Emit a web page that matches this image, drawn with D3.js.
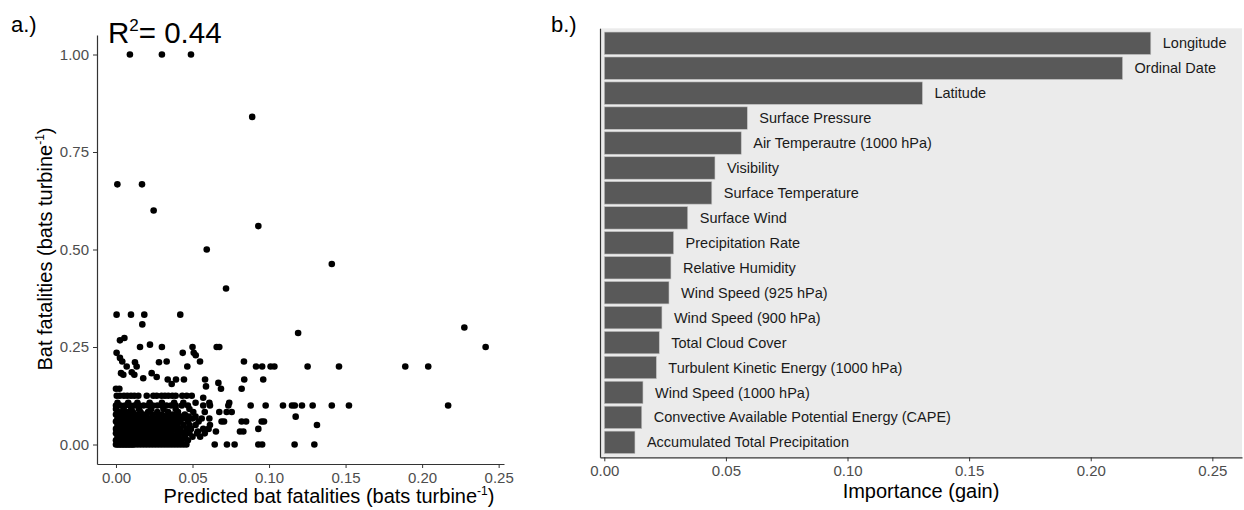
<!DOCTYPE html>
<html>
<head>
<meta charset="utf-8">
<script src="https://cdn.jsdelivr.net/npm/d3@7"></script>
<style>
  body { margin: 0; background: #fff; }
  svg text { font-family: "Liberation Sans", Arial, Helvetica, sans-serif; }
</style>
</head>
<body>
<div id="chart"></div>
<script>
// ---- data: panel a (observed level -> predicted values at that level)
const fatalityLevels = [0, 0.011, 0.02, 0.0286, 0.0333, 0.04, 0.05, 0.0588, 0.0667, 0.0714,
  0.0769, 0.0833, 0.0909, 0.1, 0.107, 0.12, 0.125, 0.1429, 0.149, 0.155, 0.158, 0.1667, 0.17,
  0.173, 0.179, 0.183, 0.185, 0.2, 0.211, 0.213, 0.222, 0.229, 0.235, 0.25, 0.256, 0.267,
  0.273, 0.286, 0.3, 0.308, 0.333, 0.4, 0.463, 0.5, 0.56, 0.6, 0.667, 0.84, 1];

const predictedAtLevel = [
  [0, 0.001, 0.002, 0.003, 0.004, 0.005, 0.006, 0.007, 0.008, 0.009, 0.010, 0.011, 0.012, 0.014, 0.016, 0.018, 0.020, 0.022, 0.024, 0.026, 0.028, 0.030, 0.032, 0.034, 0.036, 0.038, 0.040, 0.042, 0.044, 0.046, 0.0645, 0.0725, 0.0775, 0.093, 0.0955, 0.1167, 0.1296],
  [0, 0.0025, 0.005, 0.0075, 0.010, 0.0125, 0.015, 0.0175, 0.020, 0.0225, 0.025, 0.0275, 0.030, 0.0325, 0.035, 0.0375, 0.040, 0.043, 0.047],
  [0.001, 0.0035, 0.006, 0.0085, 0.011, 0.0135, 0.016, 0.0185, 0.021, 0.0235, 0.026, 0.0285, 0.031, 0.0335, 0.036, 0.0385, 0.041, 0.045, 0.050, 0.055],
  [0, 0.0025, 0.005, 0.0075, 0.010, 0.0125, 0.015, 0.0175, 0.020, 0.0225, 0.025, 0.0275, 0.030, 0.033, 0.036, 0.040, 0.044, 0.048, 0.053, 0.058],
  [0.0015, 0.0045, 0.008, 0.0115, 0.016, 0.022, 0.028, 0.034, 0.041, 0.046, 0.0535, 0.0653, 0.081, 0.0832],
  [0, 0.0025, 0.005, 0.0075, 0.010, 0.0125, 0.015, 0.0175, 0.020, 0.023, 0.026, 0.029, 0.032, 0.035, 0.038, 0.042, 0.046, 0.049, 0.057, 0.0605, 0.093],
  [0.001, 0.0035, 0.006, 0.0085, 0.011, 0.0135, 0.016, 0.019, 0.022, 0.025, 0.028, 0.031, 0.034, 0.037, 0.040, 0.044, 0.048, 0.052, 0.0614, 0.1313],
  [0, 0.0025, 0.005, 0.0075, 0.010, 0.013, 0.016, 0.019, 0.022, 0.025, 0.028, 0.031, 0.034, 0.038, 0.042, 0.047, 0.054, 0.069, 0.0706, 0.0821, 0.085, 0.0952, 0.0967],
  [0.001, 0.004, 0.007, 0.010, 0.013, 0.016, 0.019, 0.022, 0.025, 0.029, 0.033, 0.037, 0.040, 0.044, 0.050, 0.056, 0.061],
  [0.002, 0.005, 0.008, 0.011, 0.014, 0.017, 0.020, 0.024, 0.028, 0.032, 0.036, 0.040, 0.043, 0.0475, 0.052, 0.1174],
  [0, 0.003, 0.006, 0.009, 0.013, 0.018, 0.024, 0.030, 0.037, 0.045],
  [0.002, 0.005, 0.008, 0.011, 0.016, 0.021, 0.027, 0.034, 0.0405, 0.0505, 0.058, 0.0675, 0.0723, 0.0756],
  [0, 0.005, 0.010, 0.015, 0.023, 0.031, 0.039, 0.048],
  [0, 0.003, 0.006, 0.009, 0.012, 0.015, 0.018, 0.021, 0.024, 0.027, 0.030, 0.033, 0.036, 0.039, 0.043, 0.047, 0.057, 0.0614, 0.0734, 0.088, 0.0978, 0.1091, 0.115, 0.1168, 0.1215, 0.1285, 0.141, 0.1522, 0.217],
  [0.001, 0.008, 0.014, 0.022, 0.030, 0.038, 0.044, 0.052, 0.061, 0.074],
  [0.057],
  [0.0005, 0.0025, 0.0052, 0.0074, 0.0098, 0.012, 0.0146, 0.0201, 0.0244, 0.0266, 0.0298, 0.032, 0.0342, 0.0368, 0.039, 0.0433, 0.0462, 0.0495],
  [0, 0.0022, 0.0686, 0.0821],
  [0.0588],
  [0.0364],
  [0.0669],
  [0.0338, 0.0392, 0.0444, 0.0582, 0.0838, 0.0962],
  [0.0178],
  [0.0266],
  [0.012, 0.0048],
  [0.0033, 0.0233],
  [0.0103],
  [0.007, 0.0135, 0.0466, 0.0915, 0.0955, 0.101, 0.1035, 0.1252, 0.1457, 0.189, 0.204],
  [0.0124, 0.0281],
  [0.0041, 0.0331, 0.0549, 0.0836],
  [0.0026],
  [0.0521],
  [0.0004, 0.0436, 0.0508],
  [0.0157, 0.030, 0.050, 0.0658, 0.0675, 0.2415],
  [0.0222],
  [0.0026],
  [0.0055],
  [0.119],
  [0.2276],
  [0.0172],
  [0.0004, 0.0098, 0.0185, 0.042],
  [0.0719],
  [0.141],
  [0.0593],
  [0.093],
  [0.0246],
  [0.0009, 0.017],
  [0.089],
  [0.0091, 0.030, 0.049]
];

const scatterXTicks = [0, 0.05, 0.10, 0.15, 0.20, 0.25];
const scatterYTicks = [0, 0.25, 0.5, 0.75, 1];

// ---- data: panel b
const featureNames = ["Longitude", "Ordinal Date", "Latitude", "Surface Pressure",
  "Air Temperautre (1000 hPa)", "Visibility", "Surface Temperature", "Surface Wind",
  "Precipitation Rate", "Relative Humidity", "Wind Speed (925 hPa)", "Wind Speed (900 hPa)",
  "Total Cloud Cover", "Turbulent Kinetic Energy (1000 hPa)", "Wind Speed (1000 hPa)",
  "Convective Available Potential Energy (CAPE)", "Accumulated Total Precipitation"];
const featureGain = [0.2247, 0.2131, 0.1308, 0.0588, 0.0563, 0.0455, 0.0442, 0.0343,
  0.0285, 0.0274, 0.0266, 0.0237, 0.0226, 0.0214, 0.0159, 0.0154, 0.0126];
const gainTicks = [0, 0.05, 0.10, 0.15, 0.20, 0.25];

// ---- build
let svg = d3.select("#chart").append("svg")
  .attr("width", 1244).attr("height", 510);

let axisColor = "#333333";
let tickText = "#4d4d4d";

function styleAxis(g) {
  g.select(".domain").attr("stroke", axisColor).attr("stroke-width", 1.2);
  g.selectAll(".tick line").attr("stroke", axisColor).attr("stroke-width", 1);
  g.selectAll(".tick text").attr("fill", tickText).attr("font-size", 15)
    .attr("font-family", "Liberation Sans, Arial, sans-serif");
}

// panel a
let points = [];
fatalityLevels.forEach((lvl, i) => {
  predictedAtLevel[i].forEach(p => points.push({ pred: p, obs: lvl }));
});

let xA = d3.scaleLinear().domain([-0.0124, 0.2535]).range([97, 504]);
let yA = d3.scaleLinear().domain([-0.05, 1.05]).range([464, 35]);

svg.append("g").selectAll("circle")
  .data(points)
  .enter()
  .append("circle")
  .attr("cx", d => xA(d.pred))
  .attr("cy", d => yA(d.obs))
  .attr("r", 3.3)
  .attr("fill", "black");

svg.append("g")
  .attr("transform", "translate(0,464)")
  .call(d3.axisBottom(xA).tickValues(scatterXTicks).tickFormat(d3.format(".2f"))
    .tickSize(4).tickSizeOuter(0).tickPadding(4))
  .call(styleAxis);

svg.append("g")
  .attr("transform", "translate(97,0)")
  .call(d3.axisLeft(yA).tickValues(scatterYTicks).tickFormat(d3.format(".2f"))
    .tickSize(4).tickSizeOuter(0).tickPadding(4))
  .call(styleAxis);

let xTitleA = svg.append("text")
  .attr("x", 329).attr("y", 503)
  .attr("text-anchor", "middle")
  .attr("font-size", 20).attr("fill", "black");
xTitleA.append("tspan").text("Predicted bat fatalities (bats turbine");
xTitleA.append("tspan").attr("dy", -8).attr("font-size", 12).text("-1");
xTitleA.append("tspan").attr("dy", 8).text(")");

let yTitleA = svg.append("text")
  .attr("transform", "translate(52,249) rotate(-90)")
  .attr("text-anchor", "middle")
  .attr("font-size", 20).attr("fill", "black");
yTitleA.append("tspan").text("Bat fatalities (bats turbine");
yTitleA.append("tspan").attr("dy", -8).attr("font-size", 12).text("-1");
yTitleA.append("tspan").attr("dy", 8).text(")");

let r2 = svg.append("text")
  .attr("x", 108).attr("y", 43)
  .attr("font-size", 29.5).attr("fill", "black");
r2.append("tspan").text("R");
r2.append("tspan").attr("dy", -12).attr("font-size", 17).text("2");
r2.append("tspan").attr("dy", 12).text("= 0.44");

svg.append("text").attr("x", 11).attr("y", 32)
  .attr("font-size", 22).attr("fill", "black").text("a.)");

// panel b
let xB = d3.scaleLinear().domain([-0.00177, 0.2622]).range([600, 1242]);
let yB = d3.scaleBand().domain(featureNames).range([28.3, 457.3])
  .paddingInner(0.1).paddingOuter(0.15);

svg.append("rect")
  .attr("x", 600).attr("y", 28.3)
  .attr("width", 642).attr("height", 429)
  .attr("fill", "#ebebeb");

svg.append("g").selectAll("rect")
  .data(featureNames)
  .enter()
  .append("rect")
  .attr("x", xB(0))
  .attr("y", d => yB(d))
  .attr("width", (d, i) => xB(featureGain[i]) - xB(0))
  .attr("height", yB.bandwidth())
  .attr("fill", "#595959")
  .attr("stroke", "#c4c4c4")
  .attr("stroke-width", 0.6);

svg.append("g").selectAll("text")
  .data(featureNames)
  .enter()
  .append("text")
  .attr("x", (d, i) => xB(featureGain[i]) + 12)
  .attr("y", d => yB(d) + yB.bandwidth() / 2)
  .attr("dy", "0.35em")
  .attr("font-size", 14.5)
  .attr("fill", "#1a1a1a")
  .text(d => d);

svg.append("g")
  .attr("transform", "translate(0,457.3)")
  .call(d3.axisBottom(xB).tickValues(gainTicks).tickFormat(d3.format(".2f"))
    .tickSize(4).tickSizeOuter(0).tickPadding(4.4))
  .call(styleAxis);

svg.append("g")
  .attr("transform", "translate(600,0)")
  .call(d3.axisLeft(yB).tickSize(0).tickSizeOuter(0).tickFormat(""))
  .call(styleAxis);

svg.append("text")
  .attr("x", 921).attr("y", 498)
  .attr("text-anchor", "middle")
  .attr("font-size", 20).attr("fill", "black")
  .text("Importance (gain)");

svg.append("text").attr("x", 551).attr("y", 32)
  .attr("font-size", 22).attr("fill", "black").text("b.)");
</script>
</body>
</html>
